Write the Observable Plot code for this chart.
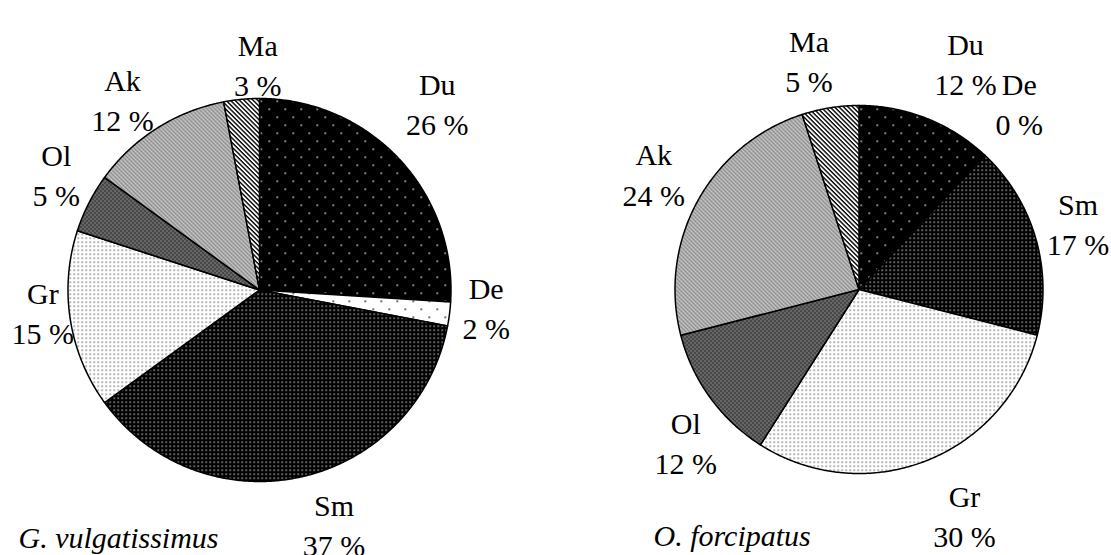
<!DOCTYPE html>
<html>
<head>
<meta charset="utf-8">
<script src="https://cdn.jsdelivr.net/npm/d3@7"></script>
<script src="https://cdn.jsdelivr.net/npm/@observablehq/plot@0.6"></script>
<style>
  html, body { margin: 0; padding: 0; background: #fff; }
  #chart svg { display: block; }
</style>
</head>
<body>
<div id="chart"></div>
<script>
// ---- Data ----
const categories = ["Du", "De", "Sm", "Gr", "Ol", "Ak", "Ma"];
const speciesNames = ["G. vulgatissimus", "O. forcipatus"];
const valuesVulgatissimus = [26, 2, 37, 15, 5, 12, 3];
const valuesForcipatus = [12, 0, 17, 30, 12, 24, 5];

// ---- Layout ----
const W = 1111, H = 555;
const FONT = "Liberation Serif, Times New Roman, serif";
const pies = [
  {
    species: speciesNames[0], values: valuesVulgatissimus,
    cx: 259, cy: 289.5, r: 191.5, title: [18, 538],
    nudge: {Du: [9, -29], De: [-3, -13], Sm: [24, 7], Gr: [12, -15], Ol: [3, -12], Ak: [-13, 4], Ma: [20, 4]}
  },
  {
    species: speciesNames[1], values: valuesForcipatus,
    cx: 858.5, cy: 289, r: 184, title: [653, 536],
    nudge: {Du: [24, -19], De: [7, -24], Sm: [4, -5], Gr: [23, 16], Ol: [8, 20], Ak: [-9, -9], Ma: [-15, -9]}
  }
];
const labelGap = 40;

const marks = [];
for (const p of pies) {
  const arcs = d3.pie().sort(null).value(d => d.v)(categories.map((c, i) => ({c, v: p.values[i]})));
  for (const a of arcs) {
    if (a.data.v <= 0) continue;
    const n = Math.max(2, Math.ceil((a.endAngle - a.startAngle) / (Math.PI / 360)));
    const pts = [{x: p.cx, y: p.cy}];
    for (let k = 0; k <= n; k++) {
      const t = a.startAngle + (a.endAngle - a.startAngle) * k / n;
      pts.push({x: p.cx + p.r * Math.sin(t), y: p.cy - p.r * Math.cos(t)});
    }
    marks.push(Plot.line(pts, {
      x: "x", y: "y", curve: "linear-closed",
      fill: `url(#pat-${a.data.c})`, stroke: "#000", strokeWidth: 1.5, strokeLinejoin: "round"
    }));
  }
  const labels = arcs.map(a => {
    const m = (a.startAngle + a.endAngle) / 2;
    const d = p.r + labelGap;
    const [dx, dy] = p.nudge[a.data.c];
    return {
      x: p.cx + d * Math.sin(m) + dx,
      y: p.cy - d * Math.cos(m) + dy,
      text: `${a.data.c}\n${a.data.v} %`
    };
  });
  marks.push(Plot.text(labels, {
    x: "x", y: "y", text: "text", fontSize: 30, lineHeight: 1.34,
    fontFamily: FONT, fill: "#000", textAnchor: "middle"
  }));
  marks.push(Plot.text([p.species], {
    x: () => p.title[0], y: () => p.title[1], text: d => d,
    fontSize: 30, fontStyle: "italic", fontFamily: FONT, fill: "#000", textAnchor: "start"
  }));
}

const svg = Plot.plot({
  width: W, height: H,
  margin: 0,
  x: {domain: [0, W], range: [0, W], axis: null},
  y: {domain: [0, H], range: [0, H], axis: null},
  style: {background: "#fff", overflow: "visible"},
  marks
});

const defs = `
<pattern id="pat-Du" patternUnits="userSpaceOnUse" width="16" height="16">
  <rect width="16" height="16" fill="#000"/>
  <rect x="4" y="4" width="1.4" height="1.4" fill="#fff"/>
  <rect x="12" y="12" width="1.4" height="1.4" fill="#fff"/>
</pattern>
<pattern id="pat-De" patternUnits="userSpaceOnUse" width="16" height="16">
  <rect width="16" height="16" fill="#fff"/>
  <rect x="4" y="4" width="1.5" height="1.5" fill="#000"/>
  <rect x="12" y="12" width="1.5" height="1.5" fill="#000"/>
</pattern>
<pattern id="pat-Sm" patternUnits="userSpaceOnUse" width="4" height="4">
  <rect width="4" height="4" fill="#000"/>
  <rect x="1" y="1" width="1.3" height="1.3" fill="#e0e0e0"/>
</pattern>
<pattern id="pat-Gr" patternUnits="userSpaceOnUse" width="4" height="4">
  <rect width="4" height="4" fill="#fff"/>
  <rect x="1" y="1" width="1.3" height="1.3" fill="#555"/>
</pattern>
<pattern id="pat-Ol" patternUnits="userSpaceOnUse" width="4" height="4">
  <rect width="4" height="4" fill="#333"/>
  <rect x="0" y="0" width="1" height="1" fill="#fff"/>
  <rect x="2" y="2" width="1" height="1" fill="#fff"/>
  <rect x="2" y="0" width="1" height="1" fill="#888"/>
  <rect x="0" y="2" width="1" height="1" fill="#888"/>
</pattern>
<pattern id="pat-Ak" patternUnits="userSpaceOnUse" width="4" height="4">
  <rect width="4" height="4" fill="#a4a4a4"/>
  <rect x="0" y="0" width="1.2" height="1.2" fill="#fff"/>
  <rect x="2" y="2" width="1.2" height="1.2" fill="#fff"/>
  <rect x="1" y="3" width="1" height="1" fill="#505050"/>
  <rect x="3" y="1" width="1" height="1" fill="#505050"/>
</pattern>
<pattern id="pat-Ma" patternUnits="userSpaceOnUse" width="3.2" height="3.2" patternTransform="rotate(45)">
  <rect width="3.2" height="3.2" fill="#fff"/>
  <rect x="0" y="0" width="3.2" height="1.4" fill="#000"/>
</pattern>`;
d3.select(svg).insert("defs", ":first-child").html(defs);

document.getElementById("chart").appendChild(svg);
</script>
</body>
</html>
